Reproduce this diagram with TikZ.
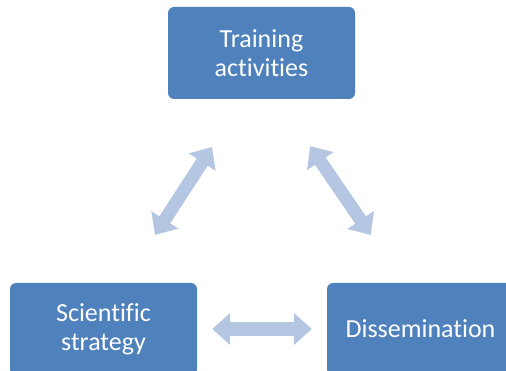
\documentclass[tikz,border=0pt]{standalone}
\usepackage{fontspec}
\setmainfont{Carlito}[Ligatures={NoCommon}]
\usetikzlibrary{arrows.meta,calc}
\definecolor{boxblue}{RGB}{79,129,189}
\definecolor{linkblue}{RGB}{180,198,226}
\tikzset{
    phase box/.style={
        fill=boxblue,
        rounded corners=6pt,
        minimum width=187pt,
        minimum height=92pt,
        inner sep=0pt,
        text=white,
        align=center,
        font=\fontsize{26}{29}\selectfont
    },
    link arrow/.style={
        draw=linkblue,
        line width=13pt,
        {Triangle[length=18pt,width=31pt]}-{Triangle[length=18pt,width=31pt]}
    }
}

\begin{document}
\begin{tikzpicture}[x=1pt,y=-1pt]
                \path[use as bounding box,clip] (0,0) rectangle (506,371);
                \node[phase box] (training) at (261.5,53) {Training\\activities};
                \node[phase box] (strategy) at (103.5,329) {Scientific\\strategy};
                \node[phase box] (dissem) at (420.5,329) {Dissemination};
                \draw[link arrow, shorten <=57pt, shorten >=57pt]
                    ([xshift=-18.5pt]training.south) -- ([xshift=20.5pt]strategy.north);
                \draw[link arrow, shorten <=57pt, shorten >=58pt]
                    ([xshift=16.5pt]training.south) -- ([xshift=-17pt]dissem.north);
                \draw[link arrow, shorten <=15pt, shorten >=15pt]
                    (strategy) -- (dissem);
            \end{tikzpicture}
\end{document}
